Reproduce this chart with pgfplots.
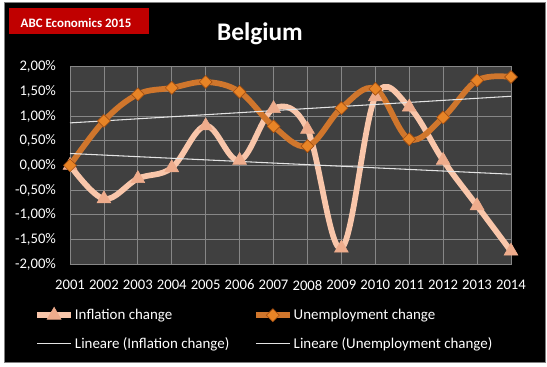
\documentclass[border=0pt]{standalone}
\usepackage{pgfplots}
\pgfplotsset{compat=1.18}
\usepackage{fontspec}
\setmainfont{Carlito}
\definecolor{plotbg}{RGB}{64,64,64}
\definecolor{gridc}{RGB}{135,135,135}
\definecolor{infl}{RGB}{249,198,170}
\definecolor{inflm}{RGB}{238,172,140}
\definecolor{unem}{RGB}{208,118,44}
\definecolor{unemm}{RGB}{232,132,38}
\definecolor{unemd}{RGB}{165,80,18}
\definecolor{titlered}{RGB}{192,0,0}
\definecolor{trend}{RGB}{228,228,228}

\begin{document}
\begin{tikzpicture}[x=0.75pt,y=0.75pt]
\fill[white] (0,0) rectangle (547,367);
\filldraw[fill=black,draw=gray] (4,5) rectangle (545,365);
\fill[titlered] (9,333) rectangle (149,359);
\node[text=white,font=\bfseries\fontsize{9.7}{11}\selectfont] at (76,343.5) {ABC Economics 2015};
\node[text=white,font=\bfseries\fontsize{19}{22}\selectfont] at (260,333.5) {Belgium};
\begin{axis}[
  at={(52.5pt,77.25pt)}, anchor=south west,
  scale only axis, width=330.75pt, height=148pt,
  xmin=2001, xmax=2014, ymin=-2, ymax=2,
  xtick={2001,2002,...,2014},
  xticklabels={2001,2002,2003,2004,2005,2006,2007,2008,2009,2010,2011,2012,2013,2014},
  ytick={-2,-1.5,-1,-0.5,0,0.5,1,1.5,2},
  yticklabels={{-2,00\%},{-1,50\%},{-1,00\%},{-0,50\%},{0,00\%},{0,50\%},{1,00\%},{1,50\%},{2,00\%}},
  grid=major, grid style={gridc, line width=0.6pt},
  axis line style={gridc, line width=0.6pt},
  major tick length=0pt,
  axis background/.style={fill=plotbg},
  tick label style={text=white, font=\fontsize{11}{13}\selectfont},
  yticklabel style={xshift=-7pt},
  xticklabel style={yshift=-8.5pt},
  clip=false,
  legend columns=2,
  legend cell align=left,
  legend style={at={(-0.09,-0.2)}, anchor=north west, fill=none, draw=none,
    text=white, font=\fontsize{11.2}{13}\selectfont,
    nodes={inner xsep=1pt},
    /tikz/every even column/.append style={column sep=17pt},
    row sep=8pt},
  legend image code/.code={\draw[mark repeat=2,mark phase=2,#1] plot coordinates {(0pt,0pt) (12.5pt,0pt) (25pt,0pt)};},
]
\addplot[infl, line width=4.3pt, smooth, tension=0.6, mark=triangle*, mark size=6pt,
  mark options={fill=inflm, draw=inflm, line width=0.4pt, solid}]
  coordinates {(2001,0.00) (2002,-0.68) (2003,-0.27) (2004,-0.05) (2005,0.80) (2006,0.10) (2007,1.15)
  (2008,0.73) (2009,-1.68) (2010,1.39) (2011,1.18) (2012,0.10) (2013,-0.82) (2014,-1.74)};
\addlegendentry{Inflation change}
\addplot[unem, line width=4.3pt, smooth, tension=0.6, mark=square*, mark size=3.4pt,
  mark options={fill=unemm, draw=unemd, line width=0.5pt, rotate=45, solid}]
  coordinates {(2001,0.00) (2002,0.90) (2003,1.44) (2004,1.57) (2005,1.69) (2006,1.49) (2007,0.79)
  (2008,0.39) (2009,1.16) (2010,1.55) (2011,0.53) (2012,0.97) (2013,1.72) (2014,1.79)};
\addlegendentry{Unemployment change}
\addplot[trend, line width=0.8pt] coordinates {(2001,0.24) (2014,-0.18)};
\addlegendentry{Lineare (Inflation change)}
\addplot[trend, line width=0.8pt] coordinates {(2001,0.86) (2014,1.40)};
\addlegendentry{Lineare (Unemployment change)}
\end{axis}
\pgfresetboundingbox
\path[use as bounding box] (0,0) rectangle (547,367);
\end{tikzpicture}
\end{document}
